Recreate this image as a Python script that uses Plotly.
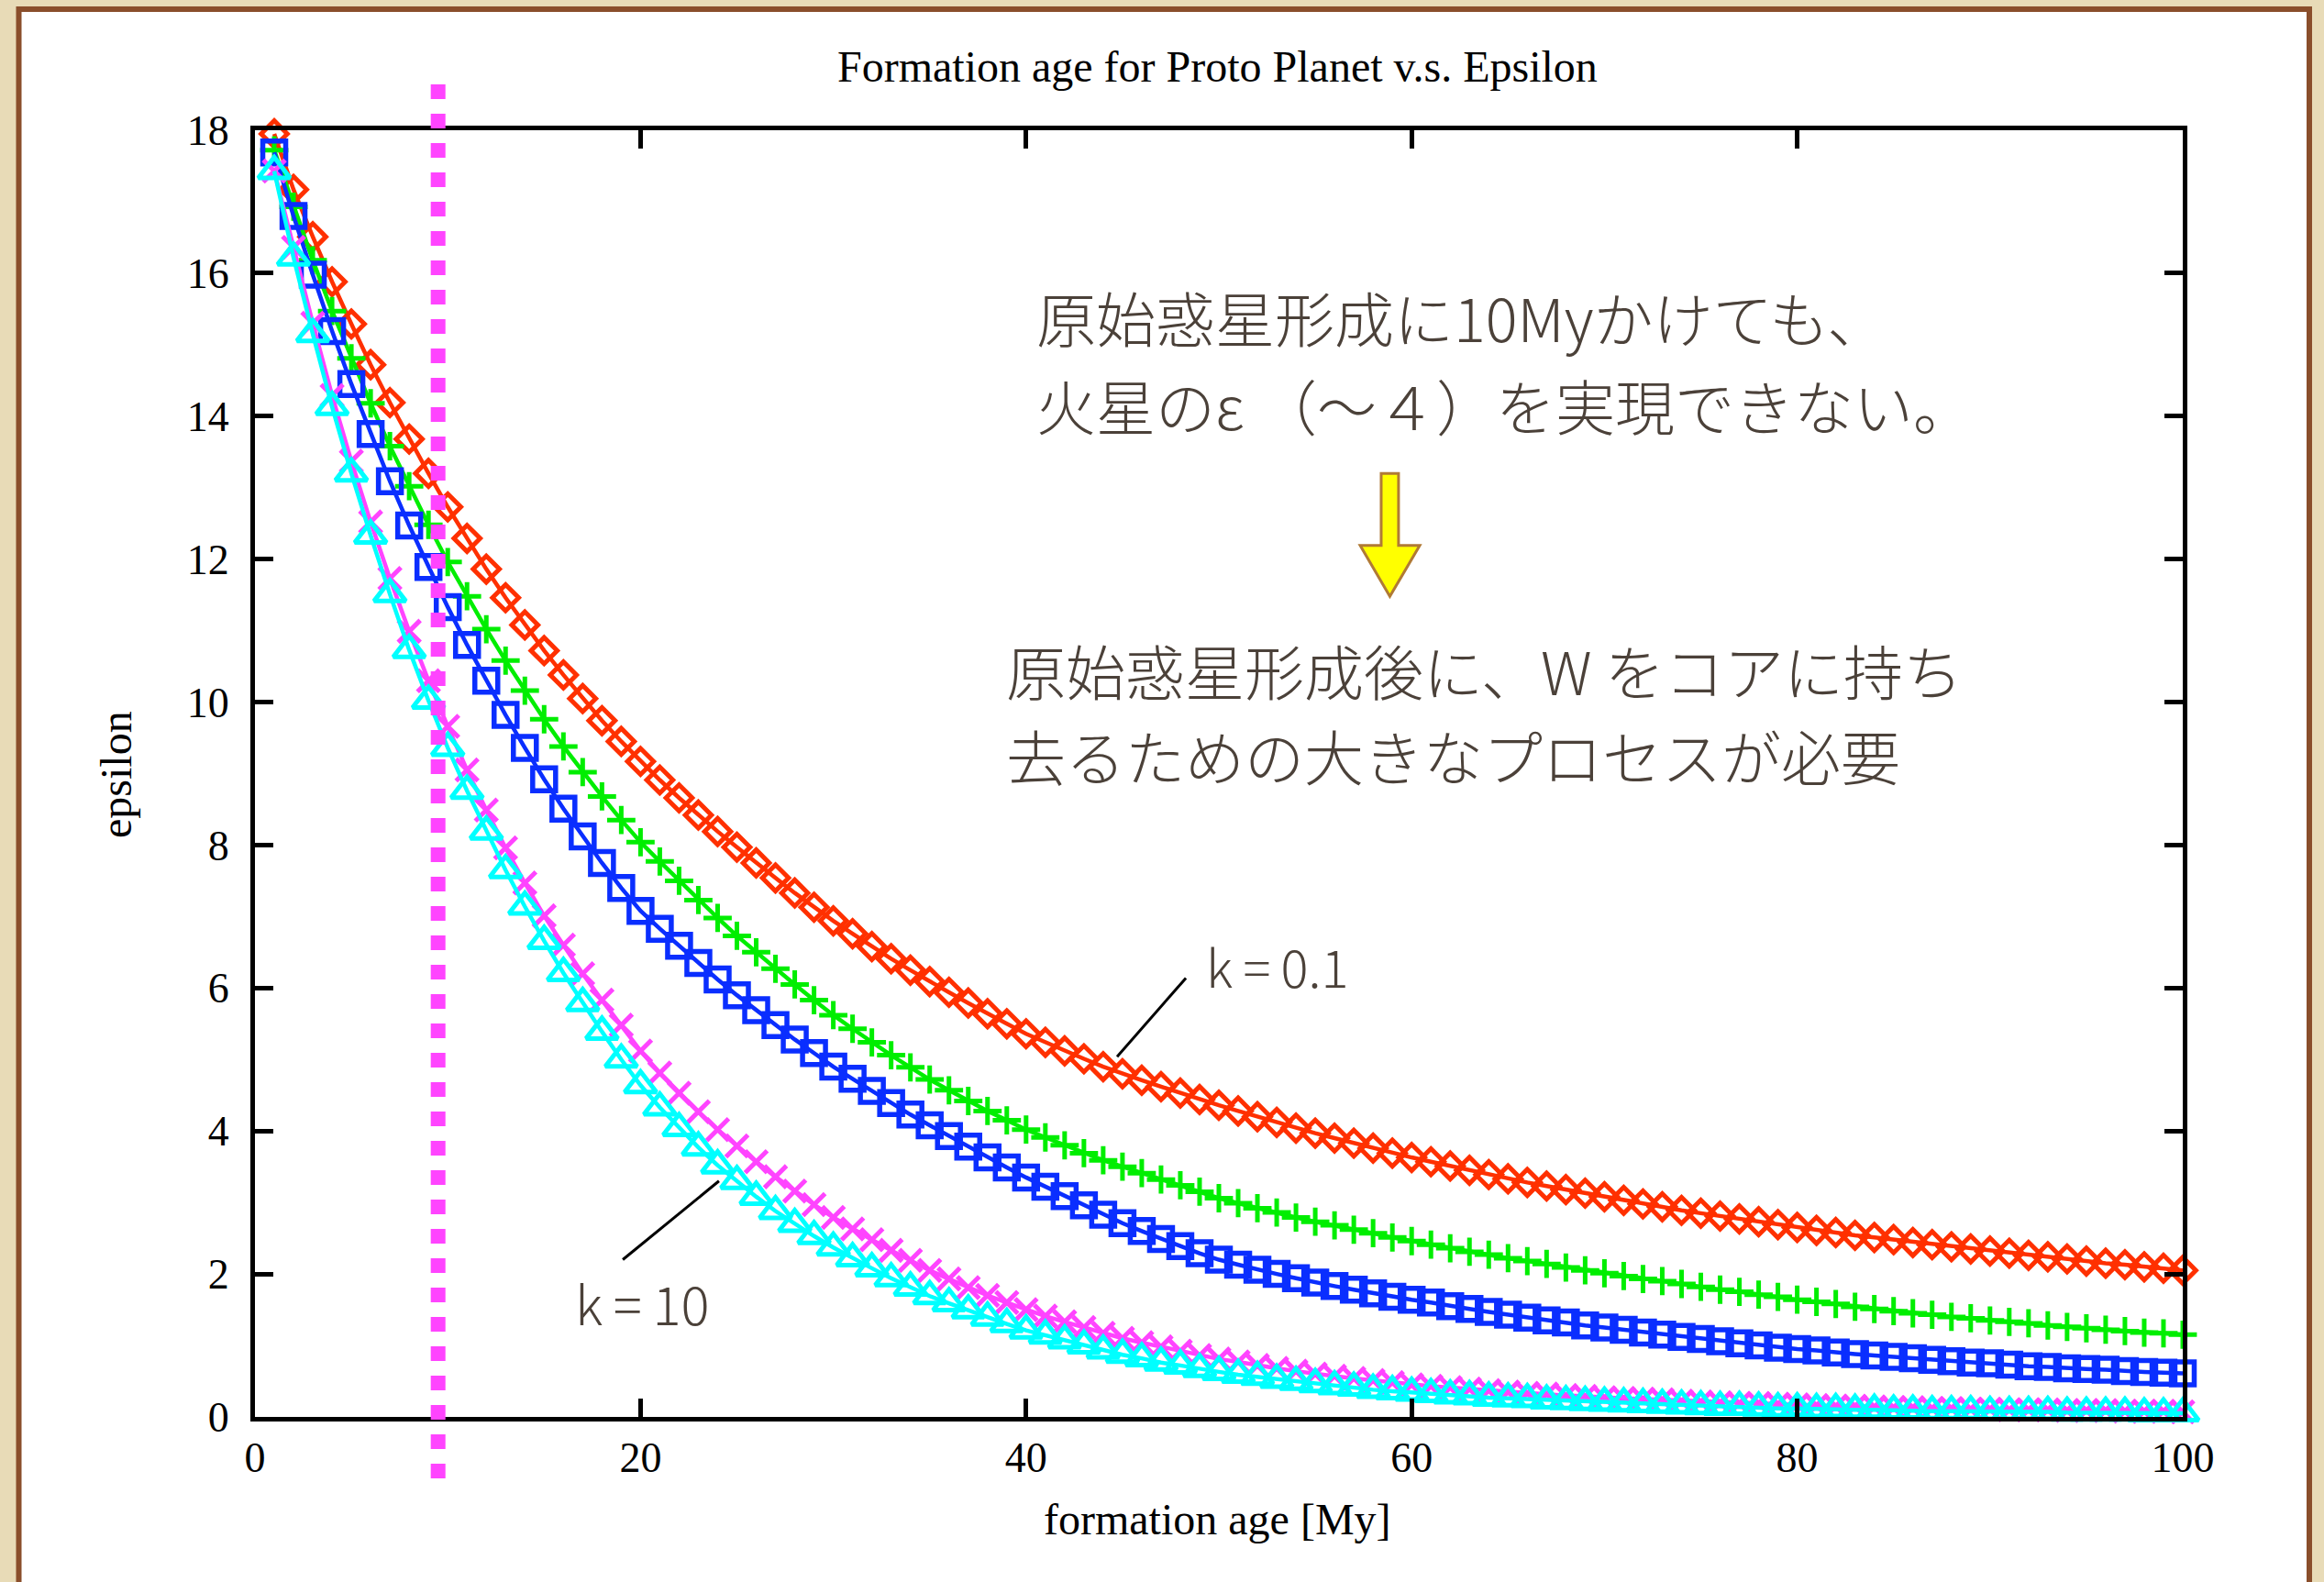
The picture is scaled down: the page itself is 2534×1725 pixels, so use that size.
import plotly.graph_objects as go

# ---------------------------------------------------------------
# Data: epsilon of the proto planet against its formation age
# ---------------------------------------------------------------
age = list(range(1, 101))  # formation age [My]

eps_k01 = [
    17.95, 17.17, 16.51, 15.88, 15.29, 14.72, 14.19, 13.68, 13.20, 12.73,
    12.29, 11.86, 11.46, 11.08, 10.72, 10.38, 10.05, 9.74, 9.45, 9.17,
    8.91, 8.66, 8.42, 8.19, 7.97, 7.75, 7.54, 7.33, 7.13, 6.94,
    6.76, 6.58, 6.41, 6.25, 6.09, 5.94, 5.79, 5.64, 5.50, 5.36,
    5.24, 5.12, 5.01, 4.90, 4.80, 4.71, 4.62, 4.53, 4.44, 4.36,
    4.28, 4.20, 4.12, 4.04, 3.97, 3.90, 3.83, 3.76, 3.69, 3.63,
    3.57, 3.51, 3.45, 3.39, 3.33, 3.28, 3.23, 3.18, 3.13, 3.08,
    3.03, 2.98, 2.94, 2.89, 2.85, 2.81, 2.77, 2.73, 2.69, 2.65,
    2.61, 2.58, 2.54, 2.51, 2.48, 2.44, 2.41, 2.38, 2.35, 2.32,
    2.29, 2.26, 2.24, 2.21, 2.18, 2.15, 2.13, 2.10, 2.08, 2.05,
]

eps_series2 = [
    17.72, 16.93, 16.18, 15.47, 14.81, 14.18, 13.58, 13.02, 12.48, 11.96,
    11.48, 11.02, 10.58, 10.16, 9.76, 9.38, 9.02, 8.68, 8.35, 8.04,
    7.77, 7.50, 7.23, 6.98, 6.73, 6.50, 6.27, 6.05, 5.83, 5.62,
    5.43, 5.24, 5.06, 4.89, 4.72, 4.57, 4.42, 4.28, 4.15, 4.02,
    3.91, 3.80, 3.69, 3.59, 3.50, 3.41, 3.32, 3.24, 3.15, 3.06,
    2.99, 2.92, 2.86, 2.79, 2.73, 2.68, 2.62, 2.57, 2.51, 2.46,
    2.41, 2.36, 2.31, 2.27, 2.22, 2.18, 2.14, 2.09, 2.05, 2.01,
    1.97, 1.93, 1.90, 1.86, 1.82, 1.78, 1.75, 1.71, 1.68, 1.64,
    1.61, 1.58, 1.54, 1.51, 1.48, 1.45, 1.43, 1.40, 1.38, 1.35,
    1.33, 1.31, 1.28, 1.26, 1.24, 1.22, 1.20, 1.18, 1.17, 1.15,
]

eps_series3 = [
    17.69, 16.80, 15.98, 15.19, 14.45, 13.75, 13.09, 12.47, 11.89, 11.33,
    10.80, 10.30, 9.82, 9.36, 8.92, 8.51, 8.12, 7.75, 7.40, 7.08,
    6.83, 6.59, 6.35, 6.12, 5.90, 5.69, 5.48, 5.28, 5.09, 4.90,
    4.73, 4.56, 4.39, 4.23, 4.08, 3.93, 3.78, 3.63, 3.49, 3.35,
    3.22, 3.09, 2.96, 2.83, 2.71, 2.60, 2.49, 2.39, 2.29, 2.20,
    2.13, 2.06, 2.00, 1.94, 1.88, 1.83, 1.78, 1.73, 1.68, 1.64,
    1.60, 1.55, 1.51, 1.47, 1.43, 1.39, 1.35, 1.32, 1.28, 1.25,
    1.22, 1.18, 1.15, 1.12, 1.09, 1.06, 1.03, 1.00, 0.97, 0.95,
    0.93, 0.90, 0.88, 0.86, 0.84, 0.82, 0.80, 0.78, 0.76, 0.75,
    0.73, 0.71, 0.70, 0.68, 0.67, 0.66, 0.64, 0.63, 0.62, 0.61,
]

eps_series4 = [
    17.43, 16.36, 15.30, 14.29, 13.37, 12.52, 11.73, 10.99, 10.30, 9.66,
    9.05, 8.49, 7.96, 7.47, 7.01, 6.60, 6.20, 5.83, 5.48, 5.12,
    4.81, 4.53, 4.27, 4.02, 3.79, 3.57, 3.36, 3.16, 2.97, 2.79,
    2.63, 2.48, 2.33, 2.19, 2.05, 1.93, 1.81, 1.70, 1.60, 1.50,
    1.41, 1.33, 1.25, 1.17, 1.10, 1.04, 0.98, 0.92, 0.86, 0.81,
    0.77, 0.72, 0.68, 0.64, 0.60, 0.57, 0.54, 0.51, 0.48, 0.45,
    0.43, 0.41, 0.39, 0.37, 0.35, 0.33, 0.32, 0.30, 0.29, 0.27,
    0.26, 0.25, 0.24, 0.22, 0.21, 0.20, 0.19, 0.19, 0.18, 0.17,
    0.16, 0.15, 0.15, 0.14, 0.13, 0.13, 0.12, 0.12, 0.11, 0.11,
    0.10, 0.10, 0.10, 0.09, 0.09, 0.09, 0.08, 0.08, 0.08, 0.07,
]

eps_k10 = [
    17.43, 16.22, 15.15, 14.13, 13.20, 12.33, 11.51, 10.73, 10.02, 9.36,
    8.76, 8.19, 7.65, 7.14, 6.66, 6.21, 5.79, 5.39, 5.00, 4.64,
    4.33, 4.04, 3.77, 3.52, 3.30, 3.08, 2.88, 2.70, 2.53, 2.37,
    2.22, 2.08, 1.94, 1.81, 1.69, 1.59, 1.49, 1.39, 1.30, 1.21,
    1.14, 1.07, 1.00, 0.93, 0.87, 0.82, 0.76, 0.72, 0.67, 0.63,
    0.59, 0.56, 0.52, 0.49, 0.46, 0.43, 0.41, 0.38, 0.36, 0.34,
    0.32, 0.30, 0.29, 0.27, 0.26, 0.25, 0.23, 0.22, 0.21, 0.20,
    0.19, 0.18, 0.17, 0.16, 0.15, 0.14, 0.14, 0.13, 0.12, 0.12,
    0.11, 0.11, 0.10, 0.10, 0.09, 0.09, 0.08, 0.08, 0.08, 0.07,
    0.07, 0.07, 0.07, 0.06, 0.06, 0.06, 0.06, 0.05, 0.05, 0.05,
]

series_names = ["k = 0.1", "series 2", "series 3", "series 4", "k = 10"]
x_ticks = [0, 20, 40, 60, 80, 100]
y_ticks = [0, 2, 4, 6, 8, 10, 12, 14, 16, 18]

# ---------------------------------------------------------------
# Styling
# ---------------------------------------------------------------
W, H = 2534, 1725
ML, MR, MT, MB = 278, 154, 142, 180
X_RANGE = [0, 100]
Y_RANGE = [0, 18]

styles = [
    dict(color="#FF3000", symbol="diamond-open", size=22, mlw=5),
    dict(color="#00EE00", symbol="cross-thin-open", size=22, mlw=5),
    dict(color="#0A2EFF", symbol="square-open", size=25, mlw=5.5),
    dict(color="#FF44FF", symbol="x-thin-open", size=24, mlw=5),
    dict(color="#00FFFF", symbol="triangle-up-open", size=30, mlw=5),
]

TEXT_BROWN = "#4B4139"
JP_FONT = "Noto Sans CJK JP"
SERIF = "Liberation Serif"


def px_to_paper_x(px):
    return (px - ML) / (W - ML - MR)


def px_to_paper_y(py):
    return 1 - (py - MT) / (H - MT - MB)


def data_to_paper_x(v):
    return (v - X_RANGE[0]) / (X_RANGE[1] - X_RANGE[0])


fig = go.Figure()

for name, vals, st in zip(series_names,
                          [eps_k01, eps_series2, eps_series3, eps_series4, eps_k10],
                          styles):
    fig.add_trace(go.Scatter(
        x=age, y=vals, name=name, mode="lines+markers",
        line=dict(color=st["color"], width=4.5),
        marker=dict(symbol=st["symbol"], size=st["size"], color=st["color"],
                    line=dict(color=st["color"], width=st["mlw"])),
        cliponaxis=False, showlegend=False,
    ))

axis_style = dict(
    showline=True, linecolor="black", linewidth=5, mirror="ticks",
    ticks="inside", ticklen=20, tickwidth=5, tickcolor="black",
    showgrid=False, zeroline=False,
    tickfont=dict(family=SERIF, size=46, color="black"),
)
fig.update_xaxes(range=X_RANGE, tickvals=x_ticks, ticklabelstandoff=0, **axis_style)
fig.update_yaxes(range=Y_RANGE, tickvals=y_ticks, ticklabelstandoff=14, **axis_style)

shapes = []
# framed white panel on the parchment background
shapes.append(dict(
    type="rect", xref="paper", yref="paper", layer="below",
    x0=px_to_paper_x(20.5), x1=px_to_paper_x(2518),
    y0=px_to_paper_y(1800), y1=px_to_paper_y(10),
    fillcolor="white", line=dict(color="#8A4E2B", width=6),
))
# dotted marker line at 10 My
line_age = 9.5
shapes.append(dict(
    type="line", xref="paper", yref="paper", layer="above",
    x0=data_to_paper_x(line_age), x1=data_to_paper_x(line_age),
    y0=px_to_paper_y(92), y1=px_to_paper_y(1612),
    line=dict(color="#FF44FF", width=16, dash="16px,16px"),
))
# leader lines for the k labels
shapes.append(dict(type="line", xref="x", yref="y", x0=48.29, y0=6.14, x1=44.72, y1=5.04,
                   line=dict(color="black", width=3)))
shapes.append(dict(type="line", xref="x", yref="y", x0=19.08, y0=2.20, x1=24.07, y1=3.30,
                   line=dict(color="black", width=3)))
# yellow down arrow
shaft_l, shaft_r, head_l, head_r, tip_x = 58.42, 59.32, 57.33, 60.42, 58.87
top_y, neck_y, tip_y = 13.20, 12.19, 11.48
arrow_path = (f"M{shaft_l},{top_y} L{shaft_r},{top_y} L{shaft_r},{neck_y} "
              f"L{head_r},{neck_y} L{tip_x},{tip_y} L{head_l},{neck_y} "
              f"L{shaft_l},{neck_y} Z")
shapes.append(dict(type="path", xref="x", yref="y", path=arrow_path,
                   fillcolor="#FFFF00", line=dict(color="#B07A35", width=3)))

annotations = [
    dict(text="Formation age for Proto Planet v.s. Epsilon", xref="paper", yref="paper",
         x=px_to_paper_x(1327), y=px_to_paper_y(73), xanchor="center", yanchor="middle",
         showarrow=False, font=dict(family=SERIF, size=48, color="black")),
    dict(text="formation age [My]", xref="paper", yref="paper",
         x=px_to_paper_x(1327), y=px_to_paper_y(1656), xanchor="center", yanchor="middle",
         showarrow=False, font=dict(family=SERIF, size=48, color="black")),
    dict(text="epsilon", xref="paper", yref="paper", textangle=-90,
         x=px_to_paper_x(126), y=px_to_paper_y(845), xanchor="center", yanchor="middle",
         showarrow=False, font=dict(family=SERIF, size=48, color="black")),
    dict(text="k\u2009=\u20090.1", xref="x", yref="y", x=49.24, y=6.32, xanchor="left",
         yanchor="middle", showarrow=False,
         font=dict(family=JP_FONT, size=56, color=TEXT_BROWN, weight=300)),
    dict(text="k\u2009=\u200910", xref="x", yref="y", x=16.51, y=1.60, xanchor="left",
         yanchor="middle", showarrow=False,
         font=dict(family=JP_FONT, size=58, color=TEXT_BROWN, weight=300)),
]

note_lines = [
    ("原始惑星形成に10Myかけても、", 40.44, 15.40),
    ("火星のε （～４）を実現できない。", 40.44, 14.17),
    ("原始惑星形成後に、W をコアに持ち", 38.87, 10.46),
    ("去るための大きなプロセスが必要", 38.87, 9.26),
]
for txt, nx, ny in note_lines:
    annotations.append(dict(
        text=txt, xref="x", yref="y", x=nx, y=ny, xanchor="left", yanchor="middle",
        showarrow=False, font=dict(family=JP_FONT, size=65, color=TEXT_BROWN, weight=300),
    ))

fig.update_layout(
    width=W, height=H, autosize=False,
    margin=dict(l=ML, r=MR, t=MT, b=MB),
    paper_bgcolor="#E8DBB7", plot_bgcolor="white",
    shapes=shapes, annotations=annotations, showlegend=False,
)

fig.write_html("out.html")
